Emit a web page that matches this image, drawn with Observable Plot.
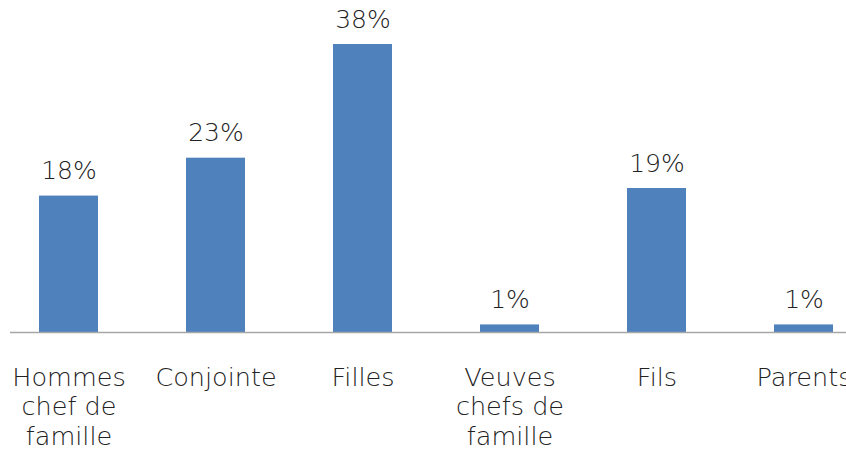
<!DOCTYPE html>
<html>
<head>
<meta charset="utf-8">
<script src="https://cdn.jsdelivr.net/npm/d3@7"></script>
<script src="https://cdn.jsdelivr.net/npm/@observablehq/plot@0.6"></script>
<style>
  html, body { margin: 0; padding: 0; background: #fff; overflow: hidden; }
  #chart svg { display: block; }
</style>
</head>
<body>
<div id="chart"></div>
<script>
const categories = ["Hommes\nchef de\nfamille", "Conjointe", "Filles", "Veuves\nchefs de\nfamille", "Fils", "Parents"];
const values = [18, 23, 38, 1, 19, 1];
const valueLabels = ["18%", "23%", "38%", "1%", "19%", "1%"];

const data = categories.map((c, i) => ({cat: c, value: values[i], label: valueLabels[i]}));

const font = "'DejaVu Sans', sans-serif";

const chart = Plot.plot({
  width: 846,
  height: 455,
  marginLeft: 10,
  marginRight: 0,
  marginTop: 0,
  marginBottom: 0,
  style: {background: "#fff", fontFamily: font, overflow: "hidden"},
  x: {domain: categories, range: [-5.2, 876.8], paddingInner: 0.6, paddingOuter: 0.3, axis: null},
  y: {domain: [0, 38], range: [332, 44], axis: null},
  marks: [
    Plot.barY(data, {x: "cat", y: "value", fill: "#4f81bd"}),
    Plot.ruleY([0], {stroke: "#a6a6a6", strokeWidth: 1.5}),
    Plot.text(data, {x: "cat", y: "value", text: "label", lineAnchor: "bottom", dy: -17, fontSize: 25, fill: "#222", fontWeight: 300}),
    Plot.text(data, {x: "cat", y: () => 0, text: "cat", lineAnchor: "top", dy: 32, fontSize: 25.5, lineHeight: 1.16, fill: "#222", fontWeight: 300})
  ]
});
document.getElementById("chart").appendChild(chart);
</script>
</body>
</html>
